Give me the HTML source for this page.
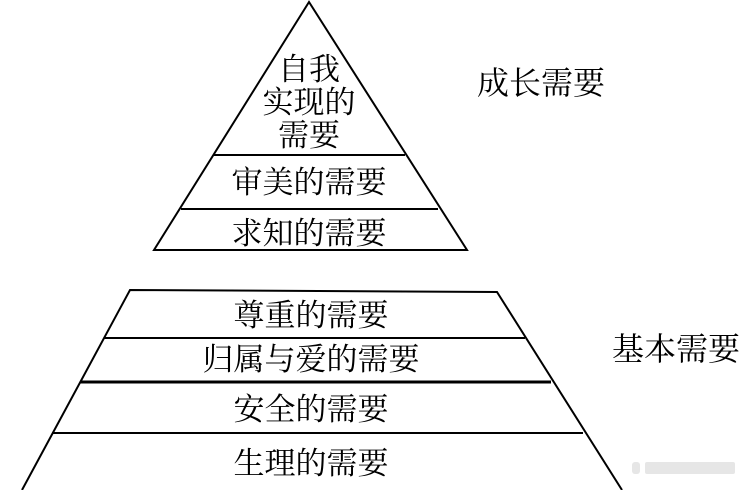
<!DOCTYPE html>
<html><head><meta charset="utf-8"><style>
html,body{margin:0;padding:0;background:#fff;}
svg{display:block;}
text{font-family:"Liberation Serif","Noto Serif CJK SC","Noto Sans CJK SC",serif;fill:#000;}
</style></head><body>
<svg width="742" height="490" viewBox="0 0 742 490" xmlns="http://www.w3.org/2000/svg">
<g stroke="#000" stroke-width="2" fill="none">
<polygon points="309,2 154,250 467,250"/>
<line x1="214" y1="155" x2="405" y2="155"/>
<line x1="181" y1="209" x2="438" y2="209"/>
<polyline points="22,490 130,290 497,292 622,490"/>
<line x1="104" y1="338" x2="525" y2="338"/>
<line x1="80" y1="382" x2="551" y2="382" stroke-width="3"/>
<line x1="52" y1="433" x2="583" y2="433"/>
</g>
<g font-size="31" text-anchor="middle">
<text x="309" y="80">自我</text>
<text x="309" y="113">实现的</text>
<text x="309" y="146">需要</text>
<text x="309" y="193">审美的需要</text>
<text x="309" y="244">求知的需要</text>
<text x="311" y="326">尊重的需要</text>
<text x="311" y="370">归属与爱的需要</text>
<text x="311" y="420">安全的需要</text>
<text x="311" y="474">生理的需要</text>
</g>
<g font-size="32">
<text x="477" y="94">成长需要</text>
<text x="612" y="360">基本需要</text>
</g>
<g fill="#e6e6e6">
<rect x="632" y="462" width="8" height="12" rx="3"/>
<rect x="645" y="462" width="90" height="12" rx="2"/>
</g>
</svg>
</body></html>
